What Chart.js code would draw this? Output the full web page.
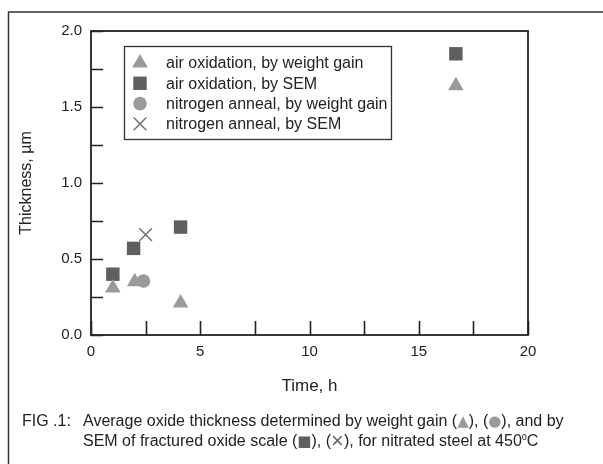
<!DOCTYPE html>
<html>
<head>
<meta charset="utf-8">
<script src="https://cdn.jsdelivr.net/npm/chart.js@4/dist/chart.umd.min.js"></script>
<style>
  html, body { margin: 0; padding: 0; background: #fff; }
  #wrap { position: relative; width: 603px; height: 464px; overflow: hidden; }
  #chart { position: absolute; left: 0; top: 0; }
  .cap { position: absolute; font: 16px "Liberation Sans", Arial, sans-serif; color: #222; line-height: 20px; white-space: nowrap; }
  .sym { font-family: "DejaVu Sans", sans-serif; font-size: 15px; }
  .tri, .dot { color: #9a9a9a; }
  .sq { color: #5f5f5f; }
  .ex { color: #666; font-family: "Liberation Sans", Arial, sans-serif; font-size: 22px; vertical-align: -2px; line-height: 0; }
  sup { font-size: 9px; vertical-align: 6px; line-height: 0; }
</style>
</head>
<body>
<div id="wrap">
  <canvas id="chart" width="603" height="464"></canvas>
  <div class="cap" style="left:22px; top:411px;">FIG .1:</div>
  <div class="cap" style="left:83px; top:411px;">Average oxide thickness determined by weight gain (<span class="sym tri">▲</span>), (<span class="sym dot">●</span>), and by<br>SEM of fractured oxide scale (<span class="sym sq">■</span>), (<span class="ex">×</span>), for nitrated steel at 450<sup>0</sup>C</div>
</div>
<script>
Chart.defaults.font.family = "'Liberation Sans', Arial, sans-serif";
Chart.defaults.color = "#222";

// valores (tiempo en h, espesor en µm)
const airWeightTime = [1, 2, 4.1, 16.7];
const airWeightThick = [0.31, 0.35, 0.21, 1.64];
const airSemTime = [1, 1.95, 4.1, 16.7];
const airSemThick = [0.40, 0.57, 0.71, 1.85];
const n2WeightTime = [2.4];
const n2WeightThick = [0.355];
const n2SemTime = [2.5];
const n2SemThick = [0.66];

const seriesLabels = [
  "air oxidation, by weight gain",
  "air oxidation, by SEM",
  "nitrogen anneal, by weight gain",
  "nitrogen anneal, by SEM"
];

const toPoints = (xs, ys) => xs.map((x, i) => ({ x: x, y: ys[i] }));

const lightGray = "#9a9a9a";
const darkGray = "#5f5f5f";
const crossGray = "#707070";

// Dibuja un marcador simple para la leyenda
function drawMarker(ctx, style, x, y, r, fill, stroke) {
  ctx.save();
  ctx.fillStyle = fill;
  ctx.strokeStyle = stroke;
  ctx.beginPath();
  if (style === "triangle") {
    ctx.moveTo(x, y - r);
    ctx.lineTo(x + r * Math.sin(Math.PI / 3), y + r / 2);
    ctx.lineTo(x - r * Math.sin(Math.PI / 3), y + r / 2);
    ctx.closePath();
    ctx.fill();
  } else if (style === "rect") {
    const s = r * Math.SQRT1_2;
    ctx.rect(x - s, y - s, 2 * s, 2 * s);
    ctx.fill();
  } else if (style === "circle") {
    ctx.arc(x, y, r, 0, Math.PI * 2);
    ctx.fill();
  } else {
    const s = r * Math.SQRT1_2;
    ctx.lineWidth = 1.5;
    ctx.moveTo(x - s, y - s); ctx.lineTo(x + s, y + s);
    ctx.moveTo(x - s, y + s); ctx.lineTo(x + s, y - s);
    ctx.stroke();
  }
  ctx.restore();
}

const framePlugin = {
  id: "frame",
  beforeDraw(chart) {
    const ctx = chart.ctx;
    ctx.save();
    ctx.fillStyle = "#fff";
    ctx.fillRect(0, 0, chart.width, chart.height);
    // marco exterior de la figura
    ctx.strokeStyle = "#333";
    ctx.lineWidth = 1.5;
    ctx.beginPath();
    ctx.moveTo(8.5, chart.height);
    ctx.lineTo(8.5, 12);
    ctx.lineTo(chart.width, 12);
    ctx.stroke();
    ctx.restore();
  },
  afterDatasetsDraw(chart) {
    const ctx = chart.ctx;
    const a = chart.chartArea;
    const xs = chart.scales.x;
    const ys = chart.scales.y;
    ctx.save();
    ctx.strokeStyle = "#222";
    ctx.lineWidth = 1.8;
    ctx.strokeRect(a.left, a.top, a.right - a.left, a.bottom - a.top);

    // marcas hacia dentro
    ctx.lineWidth = 1.6;
    ctx.beginPath();
    xs.ticks.forEach(t => {
      const px = Math.round(xs.getPixelForValue(t.value)) + 0.5;
      ctx.moveTo(px, a.bottom);
      ctx.lineTo(px, a.bottom - 14);
    });
    ys.ticks.forEach(t => {
      const py = Math.round(ys.getPixelForValue(t.value)) + 0.5;
      ctx.moveTo(a.left, py);
      ctx.lineTo(a.left + 12, py);
    });
    ctx.stroke();

    // leyenda dentro del área
    const box = { x: 124.5, y: 46.5, w: 267, h: 93 };
    ctx.fillStyle = "#fff";
    ctx.fillRect(box.x, box.y, box.w, box.h);
    ctx.strokeStyle = "#333";
    ctx.lineWidth = 1.3;
    ctx.strokeRect(box.x, box.y, box.w, box.h);
    ctx.font = "16px 'Liberation Sans', Arial, sans-serif";
    ctx.textBaseline = "middle";
    ctx.fillStyle = "#222";
    chart.data.datasets.forEach((ds, i) => {
      const cy = 63 + i * 20.3;
      drawMarker(ctx, ds.pointStyle, 140, cy, ds.pointRadius, ds.backgroundColor, ds.borderColor);
      ctx.fillStyle = "#222";
      ctx.fillText(ds.label, 166, cy + 1);
    });
    ctx.restore();
  }
};

new Chart(document.getElementById("chart").getContext("2d"), {
  type: "scatter",
  data: {
    datasets: [
      {
        label: seriesLabels[0],
        data: toPoints(airWeightTime, airWeightThick),
        pointStyle: "triangle",
        pointRadius: 9,
        backgroundColor: lightGray,
        borderColor: lightGray,
        borderWidth: 0
      },
      {
        label: seriesLabels[1],
        data: toPoints(airSemTime, airSemThick),
        pointStyle: "rect",
        pointRadius: 9.5,
        backgroundColor: darkGray,
        borderColor: darkGray,
        borderWidth: 0
      },
      {
        label: seriesLabels[2],
        data: toPoints(n2WeightTime, n2WeightThick),
        pointStyle: "circle",
        pointRadius: 6.8,
        backgroundColor: lightGray,
        borderColor: lightGray,
        borderWidth: 0
      },
      {
        label: seriesLabels[3],
        data: toPoints(n2SemTime, n2SemThick),
        pointStyle: "crossRot",
        pointRadius: 9,
        backgroundColor: crossGray,
        borderColor: crossGray,
        borderWidth: 1.5
      }
    ]
  },
  options: {
    responsive: false,
    animation: false,
    events: [],
    layout: { padding: { left: 0, top: 31, right: 75, bottom: 59 } },
    plugins: {
      legend: { display: false },
      tooltip: { enabled: false }
    },
    scales: {
      x: {
        type: "linear",
        min: 0,
        max: 20,
        afterFit: scale => { scale.height = 70; },
        grid: { display: false, drawTicks: false },
        border: { display: false },
        ticks: {
          stepSize: 2.5,
          autoSkip: false,
          maxRotation: 0,
          padding: 8,
          font: { size: 15 },
          color: "#222",
          callback: v => (v % 5 === 0 ? String(v) : "")
        },
        title: {
          display: true,
          text: "Time, h",
          font: { size: 17 },
          color: "#222",
          padding: { top: 0, bottom: 8 }
        }
      },
      y: {
        type: "linear",
        min: 0,
        max: 2,
        afterFit: scale => { scale.width = 91; },
        grid: { display: false, drawTicks: false },
        border: { display: false },
        ticks: {
          stepSize: 0.25,
          autoSkip: false,
          padding: 9,
          font: { size: 15 },
          color: "#222",
          callback: v => (Math.abs(v * 2 - Math.round(v * 2)) < 1e-6 ? v.toFixed(1) : "")
        },
        title: {
          display: true,
          text: "Thickness, µm",
          font: { size: 16 },
          color: "#222",
          padding: { top: 17, bottom: 0 }
        }
      }
    }
  },
  plugins: [framePlugin]
});
</script>
</body>
</html>
